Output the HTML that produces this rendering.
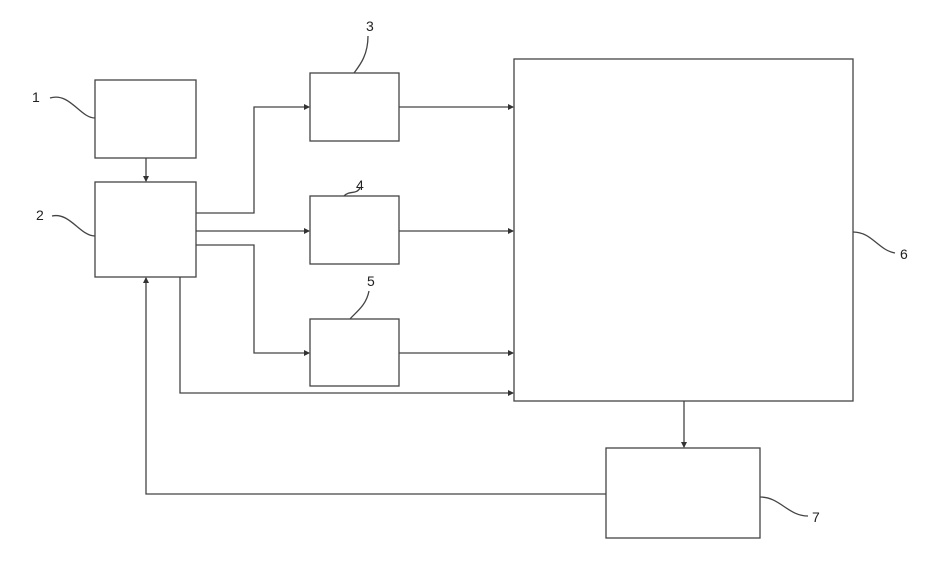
<!DOCTYPE html>
<html><head><style>html,body{margin:0;padding:0;background:#fff}svg{display:block}</style></head>
<body>
<svg width="927" height="565" viewBox="0 0 927 565" xmlns="http://www.w3.org/2000/svg">
<defs><marker id="a" markerWidth="6" markerHeight="6" refX="5" refY="3" orient="auto" markerUnits="userSpaceOnUse"><path d="M0,0 L6,3 L0,6 z" fill="#333"/></marker></defs>
<g fill="none" stroke="#444" stroke-width="1.3">
<rect x="95" y="80" width="101" height="78"/>
<rect x="95" y="182" width="101" height="95"/>
<rect x="310" y="73" width="89" height="68"/>
<rect x="310" y="196" width="89" height="68"/>
<rect x="310" y="319" width="89" height="67"/>
<rect x="514" y="59" width="339" height="342"/>
<rect x="606" y="448" width="154" height="90"/>
<path d="M146,158 V181" marker-end="url(#a)"/>
<path d="M196,213 H254 V107 H309" marker-end="url(#a)"/>
<path d="M196,231 H309" marker-end="url(#a)"/>
<path d="M196,245 H254 V353 H309" marker-end="url(#a)"/>
<path d="M399,107 H513" marker-end="url(#a)"/>
<path d="M399,231 H513" marker-end="url(#a)"/>
<path d="M399,353 H513" marker-end="url(#a)"/>
<path d="M180,277 V393 H513" marker-end="url(#a)"/>
<path d="M684,401 V447" marker-end="url(#a)"/>
<path d="M606,494 H146 V278" marker-end="url(#a)"/>
<path d="M50,98 C70,92 80,118 95,118"/>
<path d="M52,216 C70,212 80,236 95,236"/>
<path d="M368,36 C368,55 360,65 354,73"/>
<path d="M360,188 C356,195 350,190 344,196"/>
<path d="M369,291 C366,306 356,312 350,319"/>
<path d="M853,232 C872,232 878,250 895,253"/>
<path d="M760,497 C780,497 788,516 808,516"/>
</g>
<g font-family="Liberation Sans, sans-serif" font-size="14" fill="#222">
<text x="32" y="102">1</text>
<text x="36" y="220">2</text>
<text x="366" y="31">3</text>
<text x="356" y="190">4</text>
<text x="367" y="286">5</text>
<text x="900" y="259">6</text>
<text x="812" y="522">7</text>
</g>
</svg>
</body></html>
